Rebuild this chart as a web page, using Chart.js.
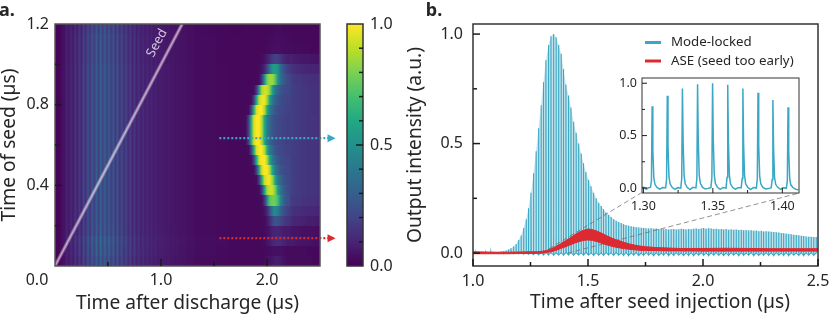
<!DOCTYPE html>
<html>
<head>
<meta charset="utf-8">
<title>Seed timing</title>
<script src="https://cdn.jsdelivr.net/npm/chart.js@4"></script>
<style>
  html, body { margin: 0; padding: 0; background: #fff; }
  #stage { position: relative; width: 830px; height: 315px; overflow: hidden; }
  #stage canvas { position: absolute; left: 0; top: 0; filter: blur(0.35px); }
</style>
</head>
<body>
<div id="stage">
  <canvas id="panelA" width="830" height="315"></canvas>
  <canvas id="colorBar" width="830" height="315"></canvas>
  <canvas id="panelB" width="830" height="315"></canvas>
  <canvas id="inset" width="830" height="315"></canvas>
</div>
<script>
// panel a: heat map, stripes column by column (0 to 1.8 us, step 0.02)
const heatStripes = [
  .01,.01,.02,.04,.05,.10,.06,.12,.07,.15,.09,.17,.10,.21,.13,.25,.15,.29,.17,.31,
  .18,.32,.19,.31,.18,.30,.17,.28,.16,.26,.14,.24,.12,.21,.11,.18,.10,.16,.09,.14,
  .085,.125,.08,.115,.08,.10,.075,.095,.07,.085,.07,.075,.065,.07,.06,.065,.055,.06,.05,.05,
  .05,.05,.04,.04,.04,.04,.03,.03,.03,.03,.03,.03,.03,.03,.03,.03,.025,.025,.025,.025,
  .025,.025,.02,.02,.02,.02,.02,.02,.02,.02
];
// how strong the stripes are in each seed row, first row = 1.15-1.20 us
const heatRowGain = [
  .9,.95,.95,.95,1,1,1,1,1,1,1,1,1,1,1,1,1,1,1,1,1.02,1.12,1.08,1
];
// bright ridge, columns 1.775 to 2.200 us (step 0.025), same row order
const heatRidge = [
  [.02,.02,.02,.02,.02,.02,.02,.02,.02,.02,.02,.025,.03,.03,.03,.025,.02,.02],
  [.02,.02,.02,.02,.02,.02,.02,.02,.02,.025,.03,.03,.035,.04,.035,.03,.03,.025],
  [.02,.02,.02,.02,.02,.02,.02,.02,.025,.03,.03,.04,.04,.04,.04,.035,.03,.03],
  [.02,.02,.02,.02,.02,.02,.02,.03,.05,.08,.12,.17,.19,.19,.16,.12,.10,.08],
  [.02,.02,.02,.02,.02,.02,.03,.05,.10,.20,.38,.52,.56,.50,.36,.27,.21,.17],
  [.02,.02,.02,.02,.02,.025,.03,.15,.50,.78,.85,.85,.75,.52,.37,.30,.25,.22],
  [.02,.02,.02,.025,.03,.16,.55,.87,.93,.93,.82,.57,.40,.32,.27,.24,.22,.21],
  [.02,.02,.025,.03,.17,.58,.90,.97,.97,.85,.58,.41,.32,.27,.24,.22,.21,.20],
  [.02,.025,.03,.18,.60,.93,1.0,1.0,.88,.60,.42,.33,.27,.24,.22,.21,.20,.19],
  [.025,.03,.18,.60,.93,1.0,1.0,.88,.60,.42,.33,.27,.24,.22,.21,.20,.19,.18],
  [.025,.03,.18,.60,.93,1.0,1.0,.88,.60,.42,.33,.27,.24,.22,.21,.20,.19,.18],
  [.025,.03,.18,.60,.93,1.0,1.0,.88,.60,.42,.33,.27,.24,.22,.21,.20,.19,.18],
  [.02,.025,.03,.18,.60,.93,1.0,1.0,.88,.60,.42,.33,.27,.24,.22,.21,.20,.19],
  [.02,.02,.025,.03,.18,.60,.93,1.0,1.0,.88,.60,.42,.33,.27,.24,.22,.21,.20],
  [.02,.02,.02,.025,.03,.18,.60,.93,1.0,1.0,.88,.60,.42,.33,.27,.24,.22,.21],
  [.02,.02,.02,.02,.025,.03,.18,.59,.91,.98,.98,.86,.59,.41,.33,.27,.24,.22],
  [.02,.02,.02,.02,.02,.025,.03,.16,.55,.86,.92,.92,.81,.56,.40,.31,.26,.23],
  [.02,.02,.02,.02,.02,.02,.025,.03,.15,.47,.73,.78,.78,.69,.48,.34,.27,.24],
  [.02,.02,.02,.02,.02,.02,.025,.03,.05,.11,.24,.40,.48,.43,.33,.26,.22,.18],
  [.02,.02,.02,.02,.02,.02,.02,.025,.03,.06,.12,.20,.26,.25,.22,.19,.16,.14],
  [.02,.02,.02,.02,.02,.02,.02,.02,.03,.04,.06,.09,.10,.10,.09,.08,.07,.07],
  [.02,.02,.02,.02,.02,.02,.02,.025,.03,.05,.07,.10,.12,.12,.12,.10,.09,.07],
  [.02,.02,.02,.02,.02,.02,.02,.02,.025,.03,.035,.04,.04,.04,.04,.04,.03,.03],
  [.02,.02,.02,.02,.02,.02,.02,.02,.03,.04,.05,.06,.08,.08,.07,.05,.04,.03]
];
// slow tail right of the ridge, columns 2.20 to 2.50 us (step 0.05)
const heatTail = [
  [.02,.02,.02,.02,.02,.02,.02],
  [.03,.025,.02,.02,.02,.02,.02],
  [.035,.03,.03,.025,.025,.02,.02],
  [.10,.08,.07,.06,.06,.05,.05],
  [.17,.14,.12,.11,.10,.10,.09],
  [.22,.17,.16,.15,.14,.13,.13],
  [.21,.18,.17,.16,.15,.14,.14],
  [.20,.18,.17,.16,.15,.14,.14],
  [.19,.18,.17,.16,.15,.14,.14],
  [.19,.18,.17,.16,.15,.15,.14],
  [.18,.18,.17,.16,.15,.15,.14],
  [.19,.18,.17,.16,.15,.15,.14],
  [.19,.18,.17,.16,.15,.15,.14],
  [.20,.18,.17,.16,.15,.15,.14],
  [.21,.18,.17,.16,.15,.15,.14],
  [.22,.18,.17,.16,.15,.15,.14],
  [.22,.18,.17,.16,.15,.15,.14],
  [.20,.17,.16,.15,.14,.14,.13],
  [.18,.14,.13,.12,.11,.11,.10],
  [.14,.11,.10,.09,.08,.08,.07],
  [.07,.05,.05,.04,.04,.04,.03],
  [.09,.07,.06,.05,.05,.04,.04],
  [.03,.03,.03,.03,.02,.02,.02],
  [.04,.03,.03,.03,.03,.02,.02]
];
const viridisStops = ['#440154','#482475','#414487','#355f8d','#2a788e','#21918c','#22a884','#44bf70','#7ad151','#bddf26','#fde725'];

const seedTimes = [0, 1.2];
const seedLevels = [0, 1.2];
const arrowTimes = [1.55, 2.59];
const arrowBlue = [0.634, 0.634];
const arrowRed = [0.138, 0.138];

const heatXTicks = [0, 1, 2];
const heatXMinor = [0.5, 1.5];
const heatYTicks = [0.4, 0.8, 1.2];
const heatYMinor = [0.2, 0.6, 1.0];
const barTicks = [0, 0.5, 1];
const barMinor = [0.1, 0.2, 0.3, 0.4, 0.6, 0.7, 0.8, 0.9];

// panel b: one spike per round trip
const mlPeakTimes = [
  1.002,1.013,1.024,1.035,1.046,1.056,1.067,1.078,1.089,1.100,
  1.111,1.122,1.133,1.144,1.154,1.165,1.176,1.187,1.198,1.209,
  1.220,1.231,1.241,1.252,1.263,1.274,1.285,1.296,1.306,1.317,
  1.328,1.339,1.350,1.361,1.372,1.383,1.393,1.404,1.415,1.426,
  1.437,1.448,1.459,1.470,1.480,1.491,1.502,1.513,1.524,1.535,
  1.546,1.557,1.567,1.578,1.589,1.600,1.611,1.622,1.633,1.644,
  1.654,1.665,1.676,1.687,1.698,1.709,1.720,1.731,1.741,1.752,
  1.763,1.774,1.785,1.796,1.807,1.818,1.828,1.839,1.850,1.861,
  1.872,1.883,1.894,1.905,1.915,1.926,1.937,1.948,1.959,1.970,
  1.981,1.992,2.002,2.013,2.024,2.035,2.046,2.057,2.068,2.079,
  2.089,2.100,2.111,2.122,2.133,2.144,2.155,2.166,2.176,2.187,
  2.198,2.209,2.220,2.231,2.242,2.253,2.263,2.274,2.285,2.296,
  2.307,2.318,2.329,2.340,2.350,2.361,2.372,2.383,2.394,2.405,
  2.416,2.427,2.437,2.448,2.459,2.470,2.481,2.492
];
const mlPeakHeights = [
  .003,.003,.004,.003,.004,.004,.003,.005,.004,.005,
  .005,.007,.009,.012,.016,.022,.030,.042,.060,.080,
  .115,.155,.205,.275,.365,.465,.570,.675,.780,.880,
  .950,.990,1.00,.985,.950,.910,.840,.770,.720,.665,
  .600,.550,.500,.455,.410,.370,.335,.305,.275,.250,
  .230,.215,.200,.185,.175,.165,.155,.148,.142,.137,
  .132,.128,.125,.122,.120,.118,.117,.116,.114,.113,
  .112,.113,.111,.112,.110,.111,.109,.110,.108,.109,
  .110,.108,.109,.111,.110,.108,.110,.109,.111,.112,
  .110,.112,.114,.111,.113,.112,.110,.111,.109,.110,
  .108,.110,.107,.109,.106,.108,.105,.107,.104,.105,
  .103,.104,.102,.103,.100,.102,.099,.100,.098,.097,
  .096,.095,.094,.092,.090,.089,.087,.086,.084,.082,
  .081,.079,.078,.076,.075,.074,.073,.073
];
const mlTroughs = [
  .001,-.001,.001,.000,-.001,.001,.000,-.001,.001,.000,
  -.002,.001,-.002,.000,-.002,.001,-.003,.000,-.003,.001,
  -.004,.002,-.005,.001,-.006,.002,-.007,.001,-.008,.002,
  -.008,.001,-.009,.002,-.008,.001,-.009,.003,-.008,.001,
  -.009,.002,-.008,.001,-.009,.003,-.008,.000,-.010,.002,
  -.009,.001,-.010,.002,-.008,.001,-.010,.003,-.009,.000,
  -.010,.002,-.011,.001,-.009,.002,-.011,.000,-.010,.002,
  -.009,.001,-.011,.002,-.010,.000,-.009,.002,-.011,.001,
  -.010,.002,-.009,.001,-.011,.000,-.010,.002,-.011,.001,
  -.009,.002,-.010,.000,-.011,.001,-.009,.002,-.010,.001,
  -.011,.000,-.010,.002,-.009,.001,-.011,.002,-.010,.000,
  -.009,.002,-.011,.001,-.010,.000,-.009,.002,-.010,.001,
  -.011,.002,-.009,.000,-.010,.002,-.011,.001,-.009,.000,
  -.010,.002,-.011,.001,-.009,.002,-.010,.001
];
const aseTimes = [1.0,1.05,1.1,1.15,1.2,1.25,1.28,1.3,1.32,1.34,1.36,1.38,1.4,1.42,1.44,1.46,1.48,1.5,1.52,1.54,1.56,1.58,1.6,1.62,1.64,1.66,1.68,1.7,1.72,1.75,1.8,1.85,1.9,2.0,2.1,2.2,2.3,2.4,2.5];
const aseUpper = [.006,.005,.004,.004,.005,.006,.006,.008,.012,.02,.03,.042,.055,.068,.082,.095,.104,.11,.107,.1,.09,.08,.07,.062,.055,.048,.042,.037,.033,.029,.025,.023,.021,.021,.022,.021,.02,.02,.02];
const aseLower = [-.003,-.003,-.003,-.003,-.002,-.002,-.001,0,.003,.006,.012,.02,.028,.036,.045,.052,.058,.06,.058,.052,.045,.038,.032,.027,.023,.02,.017,.015,.013,.012,.011,.01,.01,.009,.009,.009,.009,.009,.009];
const connectorTimesLeft = [1.30, 1.73];
const connectorTimesRight = [1.412, 2.417];
const connectorLevels = [0, 0.274];

const mainXTicks = [1, 1.5, 2, 2.5];
const mainXMinor = [1.25, 1.75, 2.25];
const mainYTicks = [0, 0.5, 1];
const mainYMinor = [0.25, 0.75];
const legendLabels = ['Mode-locked', 'ASE (seed too early)'];

// inset trace
const insetTimes = [
  1.2990,1.3005,1.3020,1.3035,
  1.3051,1.3058,1.3063,1.3068,1.3075,1.3083,1.3098,1.3118,1.3138,
  1.3160,1.3167,1.3172,1.3177,1.3184,1.3192,1.3207,1.3227,1.3247,
  1.3269,1.3276,1.3281,1.3286,1.3293,1.3301,1.3316,1.3336,1.3356,
  1.3378,1.3385,1.3390,1.3395,1.3402,1.3410,1.3425,1.3445,1.3465,
  1.3486,1.3493,1.3498,1.3503,1.3510,1.3518,1.3533,1.3553,1.3573,
  1.3595,1.3602,1.3607,1.3612,1.3619,1.3627,1.3642,1.3662,1.3682,
  1.3704,1.3711,1.3716,1.3721,1.3728,1.3736,1.3751,1.3771,1.3791,
  1.3813,1.3820,1.3825,1.3830,1.3837,1.3845,1.3860,1.3880,1.3900,
  1.3920,1.3927,1.3932,1.3937,1.3944,1.3952,1.3967,1.3987,1.4007,
  1.4029,1.4036,1.4041,1.4046,1.4053,1.4061,1.4076,1.4096,1.4116
];
const insetValues = [
  .004,.006,-.012,.002,
  .005,.07,.78,.36,.10,.035,.005,-.012,.004,
  .002,.08,.88,.40,.11,.04,.006,-.014,.003,
  -.002,.09,.95,.43,.12,.04,.004,-.016,.006,
  .000,.09,.99,.45,.12,.045,.008,-.010,-.004,
  .004,.10,1.0,.46,.13,.045,.006,-.014,.005,
  -.002,.10,.985,.45,.12,.04,.004,-.012,.002,
  .003,.09,.95,.43,.12,.04,.007,-.016,.004,
  -.001,.09,.91,.41,.11,.04,.005,-.010,-.006,
  .002,.08,.84,.38,.10,.035,.006,-.014,.003,
  -.003,.07,.77,.35,.09,.03,.004,-.012,-.018
];
const insetXTicks = [1.30, 1.35, 1.40];
const insetXMinor = [1.325, 1.375];
const insetYTicks = [0, 0.5, 1];
const insetYMinor = [0.25, 0.75];

const BLUE = '#3aa7c4';
const RED = '#dc2a30';
const INK = '#262626';
const FONT = '"Noto Sans", "Open Sans", sans-serif';

function hexToRgb(h) {
  return [parseInt(h.slice(1, 3), 16), parseInt(h.slice(3, 5), 16), parseInt(h.slice(5, 7), 16)];
}

// value 0..1 to a viridis colour, between the listed stops
function viridis(v) {
  const p = Math.min(Math.max(v, 0), 1) * (viridisStops.length - 1);
  const i = Math.min(Math.floor(p), viridisStops.length - 2);
  const a = hexToRgb(viridisStops[i]);
  const b = hexToRgb(viridisStops[i + 1]);
  return a.map((c, k) => Math.round(c + (b[k] - c) * (p - i)));
}

// one row of the map as a small image, stretched later with smoothing
function rowImage(values) {
  const c = document.createElement('canvas');
  c.width = values.length;
  c.height = 1;
  const g = c.getContext('2d');
  const img = g.createImageData(values.length, 1);
  values.forEach((v, i) => {
    const rgb = viridis(v);
    img.data[i * 4] = rgb[0];
    img.data[i * 4 + 1] = rgb[1];
    img.data[i * 4 + 2] = rgb[2];
    img.data[i * 4 + 3] = 255;
  });
  g.putImageData(img, 0, 0);
  return c;
}

// Plugin: heat map cells placed with the chart's scales
const heatmapPlugin = {
  id: 'heatmap',
  beforeDatasetsDraw(chart) {
    const { ctx, chartArea, scales: { x, y } } = chart;
    ctx.save();
    ctx.beginPath();
    ctx.rect(chartArea.left, chartArea.top, chartArea.width, chartArea.height);
    ctx.clip();
    ctx.imageSmoothingEnabled = true;
    ctx.imageSmoothingQuality = 'low';
    const stretch = (values, from, to, top, bottom) => {
      ctx.drawImage(rowImage(values), x.getPixelForValue(from), top, x.getPixelForValue(to) - x.getPixelForValue(from), bottom - top);
    };
    heatRidge.forEach((row, r) => {
      const top = Math.round(y.getPixelForValue(1.2 - r * 0.05));
      const bottom = Math.round(y.getPixelForValue(1.15 - r * 0.05));
      stretch(heatTail[r], 2.175, 2.525, top, bottom);
      stretch(heatStripes.map(v => v * heatRowGain[r]), 0, 1.8, top, bottom);
      stretch(row, 1.7625, 2.2125, top, bottom);
    });
    ctx.restore();
  }
};

const colorBarPlugin = {
  id: 'colorBarFill',
  beforeDatasetsDraw(chart) {
    const { ctx, chartArea, scales: { y } } = chart;
    const grad = ctx.createLinearGradient(0, y.getPixelForValue(0), 0, y.getPixelForValue(1));
    viridisStops.forEach((c, i) => grad.addColorStop(i / (viridisStops.length - 1), c));
    ctx.fillStyle = grad;
    ctx.fillRect(chartArea.left, chartArea.top, chartArea.width, chartArea.height);
  }
};

// Plugin: arrow heads of the two dotted lines, these sit outside the plot box
const arrowHeadsPlugin = {
  id: 'arrowHeads',
  afterDatasetsDraw(chart) {
    const { ctx, scales: { x, y } } = chart;
    [[arrowBlue, BLUE], [arrowRed, RED]].forEach(([levels, color]) => {
      const px = x.getPixelForValue(arrowTimes[1]);
      const py = y.getPixelForValue(levels[1]);
      ctx.fillStyle = color;
      ctx.beginPath();
      ctx.moveTo(px - 2, py - 4);
      ctx.lineTo(px + 6, py);
      ctx.lineTo(px - 2, py + 4);
      ctx.closePath();
      ctx.fill();
    });
  }
};

// Plugin: white backing for the inset
const whiteBackPlugin = {
  id: 'whiteBack',
  beforeDatasetsDraw(chart) {
    const a = chart.chartArea;
    chart.ctx.fillStyle = '#fff';
    chart.ctx.fillRect(a.left, a.top, a.width, a.height);
  }
};

// Plugin: red band between the upper and lower ASE curves
const aseBandPlugin = {
  id: 'aseBand',
  afterDatasetsDraw(chart) {
    const { ctx, scales: { x, y } } = chart;
    ctx.save();
    ctx.fillStyle = RED;
    ctx.beginPath();
    aseTimes.forEach((t, i) => ctx.lineTo(x.getPixelForValue(t), y.getPixelForValue(aseUpper[i])));
    for (let i = aseTimes.length - 1; i >= 0; i--) {
      ctx.lineTo(x.getPixelForValue(aseTimes[i]), y.getPixelForValue(aseLower[i]));
    }
    ctx.closePath();
    ctx.fill();
    ctx.restore();
  }
};

// Plugin: box round the plot and inward ticks, matplotlib style
const frameTicksPlugin = {
  id: 'frameTicks',
  afterDatasetsDraw(chart, args, opts) {
    const { ctx, chartArea: a, scales: { x, y } } = chart;
    ctx.save();
    ctx.strokeStyle = opts.color;
    ctx.lineWidth = opts.width;
    ctx.strokeRect(a.left, a.top, a.width, a.height);
    ctx.strokeStyle = '#1a1a1a';
    ctx.lineWidth = opts.width;
    const tick = (x1, y1, x2, y2) => {
      ctx.beginPath();
      ctx.moveTo(x1, y1);
      ctx.lineTo(x2, y2);
      ctx.stroke();
    };
    (opts.xMajor || []).forEach(v => tick(x.getPixelForValue(v), a.bottom, x.getPixelForValue(v), a.bottom - opts.major));
    (opts.xMinor || []).forEach(v => tick(x.getPixelForValue(v), a.bottom, x.getPixelForValue(v), a.bottom - opts.minor));
    const sx = opts.rightTicks ? a.right : a.left;
    const dir = opts.rightTicks ? -1 : 1;
    (opts.yMajor || []).forEach(v => tick(sx, y.getPixelForValue(v), sx + dir * opts.major, y.getPixelForValue(v)));
    (opts.yMinor || []).forEach(v => tick(sx, y.getPixelForValue(v), sx + dir * opts.minor, y.getPixelForValue(v)));
    ctx.restore();
  }
};

// Plugin: free text such as panel letters
const notesPlugin = {
  id: 'notes',
  afterDraw(chart, args, opts) {
    const ctx = chart.ctx;
    (opts.items || []).forEach(n => {
      ctx.save();
      ctx.translate(n.x, n.y);
      if (n.rotate) ctx.rotate(n.rotate * Math.PI / 180);
      ctx.font = n.font;
      ctx.fillStyle = n.color || INK;
      ctx.textAlign = n.align || 'center';
      ctx.textBaseline = 'middle';
      ctx.fillText(n.text, 0, 0);
      ctx.restore();
    });
  }
};

const legendPlugin = {
  id: 'legendBox',
  afterDatasetsDraw(chart) {
    const ctx = chart.ctx;
    [BLUE, RED].forEach((c, i) => {
      const yy = 42.5 + i * 18.5;
      ctx.save();
      ctx.strokeStyle = c;
      ctx.lineWidth = 3;
      ctx.beginPath();
      ctx.moveTo(645, yy);
      ctx.lineTo(661, yy);
      ctx.stroke();
      ctx.fillStyle = INK;
      ctx.font = '13.3px ' + FONT;
      ctx.textBaseline = 'middle';
      ctx.fillText(legendLabels[i], 671, yy);
      ctx.restore();
    });
  }
};

function axis(min, max, values, digits, size, pad, boxSize, title) {
  const horizontal = boxSize.height !== undefined;
  return {
    type: 'linear',
    min: min,
    max: max,
    grid: { display: false, drawTicks: false },
    border: { display: false },
    afterBuildTicks(s) { s.ticks = values.map(v => ({ value: v })); },
    afterFit(s) {
      if (horizontal) s.height = boxSize.height; else s.width = boxSize.width;
      s.paddingLeft = s.paddingRight = s.paddingTop = s.paddingBottom = 0;
    },
    ticks: {
      autoSkip: false,
      maxRotation: 0,
      padding: pad,
      color: INK,
      font: { family: FONT, size: size },
      callback: v => v.toFixed(digits)
    },
    title: title ? { display: true, text: title, color: INK, font: { family: FONT, size: 19.2, lineHeight: 1 }, padding: { top: 0, bottom: 2 } } : { display: false }
  };
}

function points(xs, ys) {
  return xs.map((t, i) => ({ x: t, y: ys[i] }));
}

// spikes of the mode-locked trace from peak times, heights and the floor between
function combPoints() {
  const out = [];
  mlPeakTimes.forEach((t, i) => {
    out.push({ x: t, y: mlTroughs[i] });
    out.push({ x: t, y: mlPeakHeights[i] });
    out.push({ x: t + 0.0012, y: mlTroughs[i] });
  });
  return out;
}

const baseOptions = {
  responsive: false,
  animation: false,
  devicePixelRatio: 1,
  elements: { point: { radius: 0 }, line: { tension: 0 } }
};

// Panel a
const aXScale = axis(0, 2.5, heatXTicks, 1, 16, 5, { height: 49 }, 'Time after discharge (µs)');
aXScale.ticks.callback = v => (v === 0 ? '' : v.toFixed(1));
new Chart(document.getElementById('panelA'), {
  type: 'line',
  data: {
    datasets: [
      { data: points(seedTimes, seedLevels), borderColor: 'rgba(255,235,245,0.5)', borderWidth: 1.4, pointRadius: 0 },
      { data: points(seedTimes, seedLevels), borderColor: 'rgba(255,235,245,0.35)', borderWidth: 3.5, pointRadius: 0 },
      { data: points(arrowTimes, arrowBlue), borderColor: BLUE, borderWidth: 2.2, borderDash: [2, 2], clip: false, pointRadius: 0 },
      { data: points(arrowTimes, arrowRed), borderColor: RED, borderWidth: 2.2, borderDash: [2, 2], clip: false, pointRadius: 0 }
    ]
  },
  options: Object.assign({}, baseOptions, {
    layout: { padding: { left: 0, right: 510, top: 24, bottom: 0 } },
    scales: {
      x: aXScale,
      y: axis(0, 1.2, heatYTicks, 1, 16, 6, { width: 55 }, 'Time of seed (µs)')
    },
    plugins: {
      legend: { display: false },
      tooltip: { enabled: false },
      frameTicks: { color: '#555', width: 1.5, major: 7, minor: 4, xMajor: [1, 2], xMinor: heatXMinor, yMajor: [0.4, 0.8], yMinor: heatYMinor },
      notes: {
        items: [
          { text: 'a.', x: 7, y: 11, font: 'bold 18px ' + FONT },
          { text: '0.0', x: 37, y: 280, font: '16px ' + FONT },
          { text: 'Seed', x: 157, y: 43, rotate: -62, font: '13px ' + FONT, color: 'rgba(255,255,255,0.75)' }
        ]
      }
    }
  }),
  plugins: [heatmapPlugin, arrowHeadsPlugin, frameTicksPlugin, notesPlugin]
});

// Colour bar
new Chart(document.getElementById('colorBar'), {
  type: 'line',
  data: { datasets: [{ data: [] }] },
  options: Object.assign({}, baseOptions, {
    layout: { padding: { left: 347, right: 437, top: 24, bottom: 49 } },
    scales: {
      x: { type: 'linear', min: 0, max: 1, display: false },
      y: Object.assign(axis(0, 1, barTicks, 1, 16, 7, { width: 30 }), { position: 'right' })
    },
    plugins: {
      legend: { display: false },
      tooltip: { enabled: false },
      frameTicks: { color: '#333', width: 1.5, major: 7, minor: 4, rightTicks: true, yMajor: [0.5], yMinor: barMinor }
    }
  }),
  plugins: [colorBarPlugin, frameTicksPlugin]
});

// Panel b
new Chart(document.getElementById('panelB'), {
  type: 'line',
  data: {
    datasets: [
      { data: combPoints(), borderColor: BLUE, borderWidth: 1.1, pointRadius: 0, order: 4 },
      { data: points(mlPeakTimes, mlPeakHeights), borderWidth: 0, backgroundColor: 'rgba(58,167,196,0.3)', fill: { value: 0 }, pointRadius: 0, order: 5 },
      { data: points(connectorTimesLeft, connectorLevels), borderColor: 'rgba(110,110,110,0.75)', borderWidth: 1, borderDash: [5, 3], pointRadius: 0, order: 3 },
      { data: points(connectorTimesRight, connectorLevels), borderColor: 'rgba(110,110,110,0.75)', borderWidth: 1, borderDash: [5, 3], pointRadius: 0, order: 3 },
      { data: points(aseTimes, aseUpper), borderColor: RED, borderWidth: 1, pointRadius: 0, order: 1 },
      { data: points(aseTimes, aseLower), borderColor: RED, borderWidth: 1, pointRadius: 0, order: 2 }
    ]
  },
  options: Object.assign({}, baseOptions, {
    layout: { padding: { left: 406, right: 12, top: 24, bottom: 0 } },
    scales: {
      x: axis(1, 2.5, mainXTicks, 1, 16, 6, { height: 49 }),
      y: axis(-0.059, 1.046, mainYTicks, 1, 16, 10, { width: 67 }, 'Output intensity (a.u.)')
    },
    plugins: {
      legend: { display: false },
      tooltip: { enabled: false },
      frameTicks: { color: '#333', width: 1.5, major: 7, minor: 4, xMajor: mainXTicks, xMinor: mainXMinor, yMajor: mainYTicks, yMinor: mainYMinor },
      notes: {
        items: [
          { text: 'b.', x: 434, y: 11, font: 'bold 18px ' + FONT },
          { text: 'Time after seed injection (µs)', x: 660, y: 303, font: '19.2px ' + FONT }
        ]
      }
    }
  }),
  plugins: [aseBandPlugin, frameTicksPlugin, legendPlugin, notesPlugin]
});

// Inset
new Chart(document.getElementById('inset'), {
  type: 'line',
  data: {
    datasets: [{ data: points(insetTimes, insetValues), borderColor: BLUE, borderWidth: 1.5, pointRadius: 0 }]
  },
  options: Object.assign({}, baseOptions, {
    layout: { padding: { left: 602, right: 31, top: 78, bottom: 0 } },
    scales: {
      x: axis(1.299, 1.412, insetXTicks, 2, 12.5, 6, { height: 122 }),
      y: axis(-0.048, 1.05, insetYTicks, 1, 12.5, 5, { width: 40 })
    },
    plugins: {
      legend: { display: false },
      tooltip: { enabled: false },
      frameTicks: { color: '#333', width: 1, major: 5, minor: 3, xMajor: insetXTicks, xMinor: insetXMinor, yMajor: insetYTicks, yMinor: insetYMinor }
    }
  }),
  plugins: [whiteBackPlugin, frameTicksPlugin]
});
</script>
</body>
</html>
